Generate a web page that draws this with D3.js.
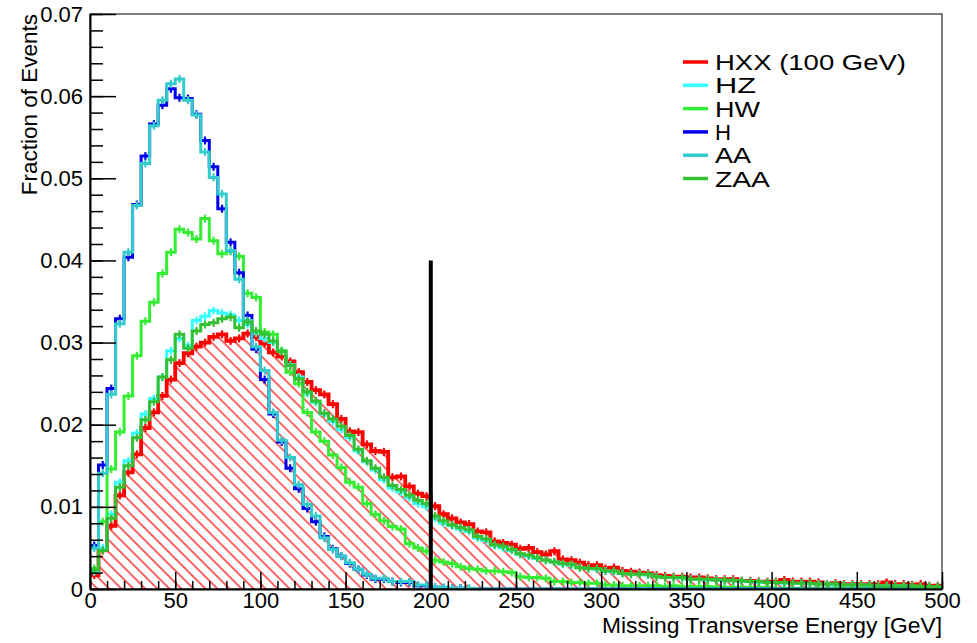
<!DOCTYPE html>
<html>
<head>
<meta charset="utf-8">
<script src="https://cdn.jsdelivr.net/npm/d3@7"></script>
<style>
  html, body { margin: 0; padding: 0; background: #fff; }
  svg { display: block; }
  text { font-family: "Liberation Sans", Arial, Helvetica, sans-serif; fill: #000; }
</style>
</head>
<body>
<svg id="chart" width="977" height="643"></svg>
<script>
// ---------------- data (fraction of events per 5 GeV bin, 0-500 GeV) ----------------
const binEdges = d3.range(0, 505, 5);            // 101 edges -> 100 bins
const seriesNames = ["HXX (100 GeV)", "HZ", "HW", "H", "AA", "ZAA"];
const xTickValues = [0, 50, 100, 150, 200, 250, 300, 350, 400, 450, 500];
const yTickValues = [0, 0.01, 0.02, 0.03, 0.04, 0.05, 0.06, 0.07];
const cutValue = 200;      // vertical cut line position [GeV]
const cutHeight = 0.04;    // cut line height

const hxx = [
0.0017,0.0047,0.0077,0.0114,0.0142,0.0164,0.0196,0.0215,0.0235,0.0255,
0.0275,0.0287,0.0295,0.0300,0.0307,0.0310,0.0302,0.0305,0.0311,0.0307,
0.0299,0.0288,0.0283,0.0277,0.0264,0.0252,0.0242,0.0237,0.0225,0.0207,
0.0192,0.0191,0.0176,0.0168,0.0167,0.0136,0.0137,0.0125,0.0116,0.0113,
0.0101,0.0091,0.0086,0.0081,0.0079,0.0070,0.0069,0.0058,0.0056,0.0054,
0.0049,0.0050,0.0045,0.0042,0.0046,0.0036,0.0035,0.0032,0.0029,0.0029,
0.0025,0.0026,0.0022,0.0021,0.0020,0.0019,0.0017,0.0016,0.0015,0.0015,
0.0014,0.0014,0.0013,0.0012,0.0012,0.0012,0.0010,0.0010,0.0009,0.0009,
0.0009,0.0011,0.0009,0.0009,0.0009,0.0008,0.0006,0.0007,0.0006,0.0006,
0.0006,0.0006,0.0006,0.0008,0.0006,0.0006,0.0005,0.0006,0.0004,0.0004];

const hz = [
0.0021,0.0050,0.0091,0.0130,0.0156,0.0190,0.0213,0.0232,0.0258,0.0290,
0.0305,0.0296,0.0327,0.0332,0.0339,0.0336,0.0334,0.0327,0.0322,0.0312,
0.0305,0.0300,0.0290,0.0273,0.0258,0.0238,0.0227,0.0213,0.0204,0.0194,
0.0184,0.0168,0.0155,0.0145,0.0133,0.0123,0.0118,0.0111,0.0104,0.0100,
0.0086,0.0080,0.0077,0.0073,0.0070,0.0062,0.0059,0.0053,0.0050,0.0047,
0.0042,0.0040,0.0037,0.0035,0.0033,0.0030,0.0029,0.0026,0.0025,0.0024,
0.0022,0.0021,0.0019,0.0018,0.0018,0.0017,0.0015,0.0014,0.0014,0.0013,
0.0012,0.0012,0.0011,0.0011,0.0010,0.0010,0.0009,0.0009,0.0008,0.0008,
0.0008,0.0007,0.0007,0.0007,0.0006,0.0006,0.0006,0.0005,0.0005,0.0005,
0.0005,0.0004,0.0004,0.0004,0.0004,0.0004,0.0003,0.0003,0.0003,0.0003];

const hw = [
0.0025,0.0082,0.0146,0.0191,0.0235,0.0284,0.0326,0.0349,0.0384,0.0410,
0.0438,0.0434,0.0426,0.0451,0.0424,0.0408,0.0411,0.0405,0.0360,0.0355,
0.0313,0.0310,0.0290,0.0264,0.0250,0.0215,0.0191,0.0180,0.0163,0.0148,
0.0130,0.0124,0.0104,0.0091,0.0083,0.0076,0.0073,0.0055,0.0050,0.0046,
0.0035,0.0033,0.0031,0.0027,0.0025,0.0024,0.0022,0.0022,0.0021,0.0020,
0.0015,0.0014,0.0014,0.0013,0.0009,0.0009,0.0008,0.0008,0.0007,0.0007,
0.0005,0.0005,0.0004,0.0004,0.0004,0.0004,0.0004,0.0003,0.0004,0.0003,
0.0003,0.0003,0.0003,0.0002,0.0002,0.0002,0.0002,0.0002,0.0002,0.0002,
0.0001,0.0001,0.0001,0.0001,0.0001,0.0001,0.0001,0.0001,0.0001,0.0001,
0.0001,0.0001,0.0001,0.0001,0.0001,0.0001,0.0001,0.0001,0.0001,0.0001];

const hOnly = [
0.0053,0.0151,0.0244,0.0329,0.0404,0.0468,0.0527,0.0566,0.0589,0.0609,
0.0598,0.0597,0.0578,0.0546,0.0514,0.0463,0.0422,0.0385,0.0333,0.0292,
0.0255,0.0213,0.0179,0.0147,0.0122,0.0098,0.0082,0.0064,0.0049,0.0040,
0.0031,0.0024,0.0017,0.0012,0.0012,0.0009,0.0008,0.0008,0.0004,0.0004,
0.0002,0.0001,0.0001,0.0001,0,0,0,0,0,0,
0,0,0,0,0,0,0,0,0,0,
0,0,0,0,0,0,0,0,0,0,
0,0,0,0,0,0,0,0,0,0,
0,0,0,0,0,0,0,0,0,0,
0,0,0,0,0,0,0,0,0,0];

const aa = [
0.0050,0.0141,0.0237,0.0323,0.0410,0.0467,0.0518,0.0564,0.0595,0.0615,
0.0621,0.0595,0.0577,0.0532,0.0501,0.0481,0.0412,0.0377,0.0327,0.0295,
0.0266,0.0215,0.0181,0.0160,0.0127,0.0103,0.0089,0.0062,0.0048,0.0040,
0.0032,0.0024,0.0018,0.0013,0.0013,0.0009,0.0009,0.0009,0.0005,0.0005,
0.0002,0.0002,0.0001,0.0001,0.0001,0,0,0,0,0,
0,0,0,0,0,0,0,0,0,0,
0,0,0,0,0,0,0,0,0,0,
0,0,0,0,0,0,0,0,0,0,
0,0,0,0,0,0,0,0,0,0,
0,0,0,0,0,0,0,0,0,0];

const zaa = [
0.0023,0.0047,0.0086,0.0124,0.0150,0.0184,0.0206,0.0228,0.0258,0.0279,
0.0310,0.0293,0.0314,0.0322,0.0324,0.0329,0.0331,0.0318,0.0325,0.0314,
0.0310,0.0302,0.0289,0.0272,0.0256,0.0240,0.0229,0.0214,0.0207,0.0198,
0.0187,0.0170,0.0156,0.0147,0.0136,0.0126,0.0121,0.0114,0.0108,0.0104,
0.0089,0.0083,0.0078,0.0075,0.0072,0.0064,0.0061,0.0054,0.0052,0.0048,
0.0043,0.0041,0.0038,0.0035,0.0033,0.0031,0.0030,0.0026,0.0025,0.0025,
0.0022,0.0022,0.0019,0.0018,0.0018,0.0018,0.0015,0.0014,0.0014,0.0014,
0.0012,0.0012,0.0012,0.0011,0.0011,0.0010,0.0010,0.0009,0.0009,0.0008,
0.0008,0.0008,0.0007,0.0007,0.0007,0.0006,0.0006,0.0006,0.0005,0.0005,
0.0005,0.0005,0.0004,0.0004,0.0004,0.0004,0.0004,0.0003,0.0003,0.0003];

const seriesValues = [hxx, hz, hw, hOnly, aa, zaa];
const seriesColors = ["#ff0000", "#33ffff", "#33ee33", "#0000ee", "#33cccc", "#33c033"];

// ---------------- layout ----------------
const frame = { left: 90, right: 942, top: 14, bottom: 589 };
const svg = d3.select("#chart");

const x = d3.scaleLinear().domain([0, 500]).range([frame.left, frame.right]);
const y = d3.scaleLinear().domain([0, 0.07]).range([frame.bottom, frame.top]);

const defs = svg.append("defs");
defs.append("clipPath").attr("id", "plotClip")
  .append("rect")
  .attr("x", frame.left).attr("y", frame.top)
  .attr("width", frame.right - frame.left)
  .attr("height", frame.bottom - frame.top + 1);

const hatch = defs.append("pattern")
  .attr("id", "hatch")
  .attr("patternUnits", "userSpaceOnUse")
  .attr("width", 8.5).attr("height", 10)
  .attr("patternTransform", "rotate(-45)");
hatch.append("line")
  .attr("x1", 1).attr("y1", -1).attr("x2", 1).attr("y2", 11)
  .attr("stroke", "#ff0000").attr("stroke-width", 1.2);

// step points for a histogram
function stepPoints(vals) {
  const pts = vals.map((v, i) => [binEdges[i], v]);
  pts.push([binEdges[vals.length], vals[vals.length - 1]]);
  return pts;
}

const plot = svg.append("g").attr("clip-path", "url(#plotClip)");

// hatched area of the HXX histogram
const area = d3.area()
  .x(d => x(d[0])).y0(y(0)).y1(d => y(d[1]))
  .curve(d3.curveStepAfter);
plot.append("path")
  .datum(stepPoints(hxx))
  .attr("d", area)
  .attr("fill", "url(#hatch)");

const line = d3.line()
  .x(d => x(d[0])).y(d => y(d[1]))
  .curve(d3.curveStepAfter);

seriesValues.forEach((vals, si) => {
  const g = plot.append("g");
  const lw = si === 0 ? 3.8 : 3;
  g.append("path")
    .datum(stepPoints(vals))
    .attr("d", line)
    .attr("fill", "none")
    .attr("stroke", seriesColors[si])
    .attr("stroke-width", lw)
    .attr("stroke-linejoin", "miter");
  // small error ticks at bin centres
  g.selectAll("line.err")
    .data(vals.map((v, i) => ({ v, c: (binEdges[i] + binEdges[i + 1]) / 2 })).filter(d => d.v > 0))
    .join("line")
    .attr("class", "err")
    .attr("x1", d => x(d.c)).attr("x2", d => x(d.c))
    .attr("y1", d => y(d.v) - 4).attr("y2", d => y(d.v) + 4)
    .attr("stroke", seriesColors[si])
    .attr("stroke-width", 2.2);
});

// cut line at 200 GeV
svg.append("line")
  .attr("x1", x(cutValue)).attr("x2", x(cutValue))
  .attr("y1", y(0)).attr("y2", y(cutHeight))
  .attr("stroke", "#000").attr("stroke-width", 4);

// ---------------- frame and axes ----------------
svg.append("rect")
  .attr("x", frame.left).attr("y", frame.top)
  .attr("width", frame.right - frame.left).attr("height", frame.bottom - frame.top)
  .attr("fill", "none").attr("stroke", "#000").attr("stroke-width", 1);

const fmtY = d => d === 0 ? "0" : d3.format(".2f")(d);

// y minor ticks
svg.append("g")
  .attr("transform", `translate(${frame.left},0)`)
  .call(d3.axisLeft(y).tickValues(d3.range(0, 0.0701, 0.002)).tickSizeInner(-13).tickSizeOuter(0).tickFormat(""))
  .call(g => g.select(".domain").remove())
  .call(g => g.selectAll(".tick line").attr("stroke", "#000").attr("stroke-width", 1.5));

// y major ticks + labels
const yAxisG = svg.append("g")
  .attr("transform", `translate(${frame.left},0)`)
  .call(d3.axisLeft(y).tickValues(yTickValues).tickSizeInner(-26).tickSizeOuter(0).tickPadding(7).tickFormat(fmtY));
yAxisG.select(".domain").attr("stroke", "#000").attr("stroke-width", 2);
yAxisG.selectAll(".tick line").attr("stroke", "#000").attr("stroke-width", 1.5);
yAxisG.selectAll(".tick text")
  .attr("font-size", 22).attr("font-family", "Liberation Sans, Arial, sans-serif").attr("fill", "#000");

// x minor ticks
svg.append("g")
  .attr("transform", `translate(0,${frame.bottom})`)
  .call(d3.axisBottom(x).tickValues(d3.range(0, 501, 10)).tickSizeInner(-8).tickSizeOuter(0).tickFormat(""))
  .call(g => g.select(".domain").remove())
  .call(g => g.selectAll(".tick line").attr("stroke", "#000").attr("stroke-width", 1.5));

// x major ticks + labels
const xAxisG = svg.append("g")
  .attr("transform", `translate(0,${frame.bottom})`)
  .call(d3.axisBottom(x).tickValues(xTickValues).tickSizeInner(-17).tickSizeOuter(0).tickPadding(3).tickFormat(d3.format("d")));
xAxisG.select(".domain").attr("stroke", "#000").attr("stroke-width", 2);
xAxisG.selectAll(".tick line").attr("stroke", "#000").attr("stroke-width", 1.5);
xAxisG.selectAll(".tick text")
  .attr("font-size", 22).attr("font-family", "Liberation Sans, Arial, sans-serif").attr("fill", "#000");

// axis titles
svg.append("text")
  .attr("x", frame.right).attr("y", 633)
  .attr("text-anchor", "end")
  .attr("font-size", 21.5)
  .attr("textLength", 340)
  .attr("lengthAdjust", "spacingAndGlyphs")
  .text("Missing Transverse Energy [GeV]");

svg.append("text")
  .attr("transform", `translate(37,${frame.top}) rotate(-90)`)
  .attr("text-anchor", "end")
  .attr("font-size", 22.5)
  .text("Fraction of Events");

// ---------------- legend ----------------
const legendWidths = [191, 41, 45, 16, 36, 55];   // rendered text widths (style)
const legend = svg.append("g");
seriesNames.forEach((name, i) => {
  const cy = 62 + i * 23.3;
  legend.append("line")
    .attr("x1", 683).attr("x2", 708)
    .attr("y1", cy).attr("y2", cy)
    .attr("stroke", seriesColors[i]).attr("stroke-width", 3.5);
  legend.append("text")
    .attr("x", 715).attr("y", cy + 8)
    .attr("font-size", 21.5)
    .attr("textLength", legendWidths[i])
    .attr("lengthAdjust", "spacingAndGlyphs")
    .text(name);
});
</script>
</body>
</html>
